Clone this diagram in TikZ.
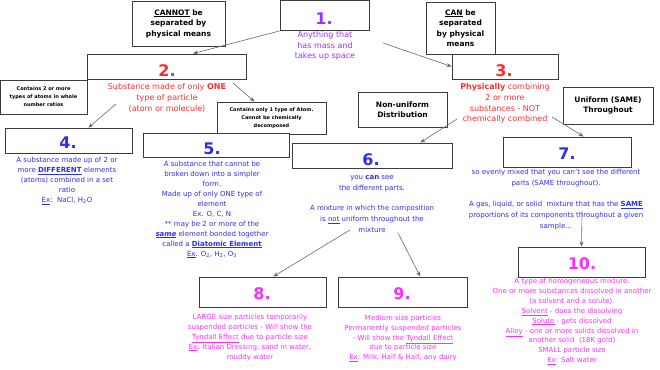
\documentclass[tikz,border=0pt]{standalone}
\usepackage{fontspec}
\setmainfont{DejaVu Sans}
\usetikzlibrary{arrows.meta}
\definecolor{ink}{RGB}{60,60,60}
\definecolor{lineA}{RGB}{105,105,105}
\definecolor{purpleA}{RGB}{153,51,255}
\definecolor{redA}{RGB}{255,45,45}
\definecolor{blueA}{RGB}{45,45,240}
\definecolor{pinkA}{RGB}{255,45,255}
\tikzset{
  box/.style={draw=ink, line width=0.9pt, fill=white, inner sep=0pt},
  head/.style={box, align=center, font=\bfseries\fontsize{7.5}{10.5}\selectfont},
  tinybox/.style={box, align=center, font=\bfseries\fontsize{5}{8}\selectfont},
  num/.style={font=\bfseries\fontsize{16}{16}\selectfont, text=#1, inner sep=0pt},
  desc/.style={align=center, text=#1, font=\fontsize{7}{10}\selectfont, inner sep=0pt},
  bigdesc/.style={desc=#1, font=\fontsize{8}{10.6}\selectfont},
  arrow/.style={-{Stealth[length=5pt,width=4pt]}, line width=0.6pt, draw=lineA},
}

\begin{document}
\begin{tikzpicture}[x=1pt,y=-1pt]
\useasboundingbox (0,0) rectangle (660,369);

% header boxes
\node[head, minimum width=93pt, minimum height=45pt] (cannot) at (178.5,23.5) {\underline{CANNOT} be\\separated by\\physical means};
\node[head, minimum width=69pt, minimum height=52pt] (can) at (460.5,28) {\underline{CAN} be\\separated\\by physical\\means};
\node[head, minimum width=89pt, minimum height=35pt] (nonu) at (402.5,109.5) {Non-uniform\\Distribution};
\node[head, minimum width=90pt, minimum height=37pt] (unif) at (608,105.5) {Uniform (SAME)\\Throughout};
\node[tinybox, minimum width=87pt, minimum height=34pt] (comp) at (43.5,97) {Contains 2 or more\\types of atoms in whole\\number ratios};
\node[tinybox, minimum width=109pt, minimum height=32pt] (elem) at (271.5,118) {Contains only 1 type of Atom.\\Cannot be chemically\\decomposed};

% numbered boxes
\node[box, minimum width=89pt, minimum height=30pt] (b1) at (324.5,15.5) {};
\node[box, minimum width=159pt, minimum height=25pt] (b2) at (166.5,66.5) {};
\node[box, minimum width=106pt, minimum height=25pt] (b3) at (505,66.5) {};
\node[box, minimum width=127pt, minimum height=25pt] (b4) at (68.5,140.5) {};
\node[box, minimum width=146pt, minimum height=24pt] (b5) at (216,145) {};
\node[box, minimum width=160pt, minimum height=25pt] (b6) at (372,155.5) {};
\node[box, minimum width=128pt, minimum height=30pt] (b7) at (567,152) {};
\node[box, minimum width=127pt, minimum height=30pt] (b8) at (262.5,292) {};
\node[box, minimum width=129pt, minimum height=30pt] (b9) at (402.5,292) {};
\node[box, minimum width=127pt, minimum height=30pt] (b10) at (581.5,262) {};

\node[num=purpleA] (n1) at (324,18.5) {1.};
\node[num=redA] (n2) at (167,71) {2.};
\node[num=redA] (n3) at (504,71) {3.};
\node[num=blueA] (n4) at (68,143) {4.};
\node[num=blueA] (n5) at (212,149) {5.};
\node[num=blueA] (n6) at (371,160) {6.};
\node[num=blueA] (n7) at (567,154) {7.};
\node[num=pinkA] (n8) at (262,294) {8.};
\node[num=pinkA] (n9) at (402,294) {9.};
\node[num=pinkA] (n10) at (582,264) {10.};

% descriptions
\node[bigdesc=purpleA] (t1) at (325,46) {Anything that\\has mass and\\takes up space};
\node[bigdesc=redA] (t2) at (167,98) {Substance made of only \textbf{ONE}\\type of particle\\(atom or molecule)};
\node[bigdesc=redA] (t3) at (505,103.5) {\textbf{Physically} combining\\2 or more\\substances - NOT\\chemically combined};
\node[desc=blueA] (t4) at (67,181) {A substance made up of 2 or\\more \underline{\textbf{DIFFERENT}} elements\\(atoms) combined in a set\\ratio\\\underline{Ex}:\ \ NaCl, H\textsubscript{2}O};
\node[desc=blueA] (t5) at (212,209.5) {A substance that cannot be\\broken down into a simpler\\form.\\Made up of only ONE type of\\element\\Ex. O, C, N\\** may be 2 or more of the\\\underline{\textbf{\textit{same}}} element bonded together\\called a \underline{\textbf{Diatomic Element}}\\\underline{Ex}. O\textsubscript{2}, H\textsubscript{2}, O\textsubscript{3}};
\node[desc=blueA, font=\fontsize{7}{11}\selectfont] (t6) at (372,204) {you \textbf{can} see\\the different parts.\\[9pt]A mixture in which the composition\\is \underline{not} uniform throughout the\\mixture};
\node[desc=blueA, font=\fontsize{7}{11}\selectfont] (t7) at (556,199.5) {so evenly mixed that you can't see the different\\parts (SAME throughout).\\[10pt]A gas, liquid, or solid\ \ mixture that has the \underline{\textbf{SAME}}\\proportions of its components throughout a given\\sample...};
\node[desc=pinkA, font=\fontsize{7}{9.8}\selectfont] (t8) at (250,337.5) {LARGE size particles temporarily\\suspended particles - Will show the\\\underline{Tyndall Effect} due to particle size\\\underline{Ex}: Italian Dressing, sand in water,\\muddy water};
\node[desc=pinkA, font=\fontsize{7}{9.8}\selectfont] (t9) at (403,338.5) {Medium size particles\\Permanently suspended particles\\- Will show the \underline{Tyndall Effect}\\due to particle size\\\underline{Ex}: Milk, Half \& Half, any dairy};
\node[desc=pinkA, font=\fontsize{7}{9.9}\selectfont] (t10) at (572,321.5) {A type of homogeneous mixture.\\One or more substances dissolved in another\\(a solvent and a solute).\\\underline{Solvent} - does the dissolving\\\underline{Solute} - gets dissolved\\\underline{Alloy} - one or more solids dissolved in\\another solid\ \ (18K gold)\\SMALL particle size\\\underline{Ex}: Salt water};

% arrow tails
\coordinate (s3) at (383,43);
\coordinate (s4) at (116,104);
\coordinate (s5) at (233,83);
\coordinate (s6) at (457,119);
\coordinate (s7) at (552,117);
\coordinate (s10) at (582,211);
\coordinate (s8) at (350,230);
\coordinate (s9) at (398,233);

\draw[arrow] (b1.south west) -- (b2.26);
\draw[arrow] (s3) -- (b3.west);
\draw[arrow] (s4) -- (b4.33);
\draw[arrow] (s5) -- (elem.136);
\draw[arrow] (s6) -- (b6.15.5);
\draw[arrow] (s7) -- (b7.43);
\draw[arrow] (s10) -- (b10.north);
\draw[arrow] (s8) -- (b8.55);
\draw[arrow] (s9) -- (b9.41);

\end{tikzpicture}
\end{document}
